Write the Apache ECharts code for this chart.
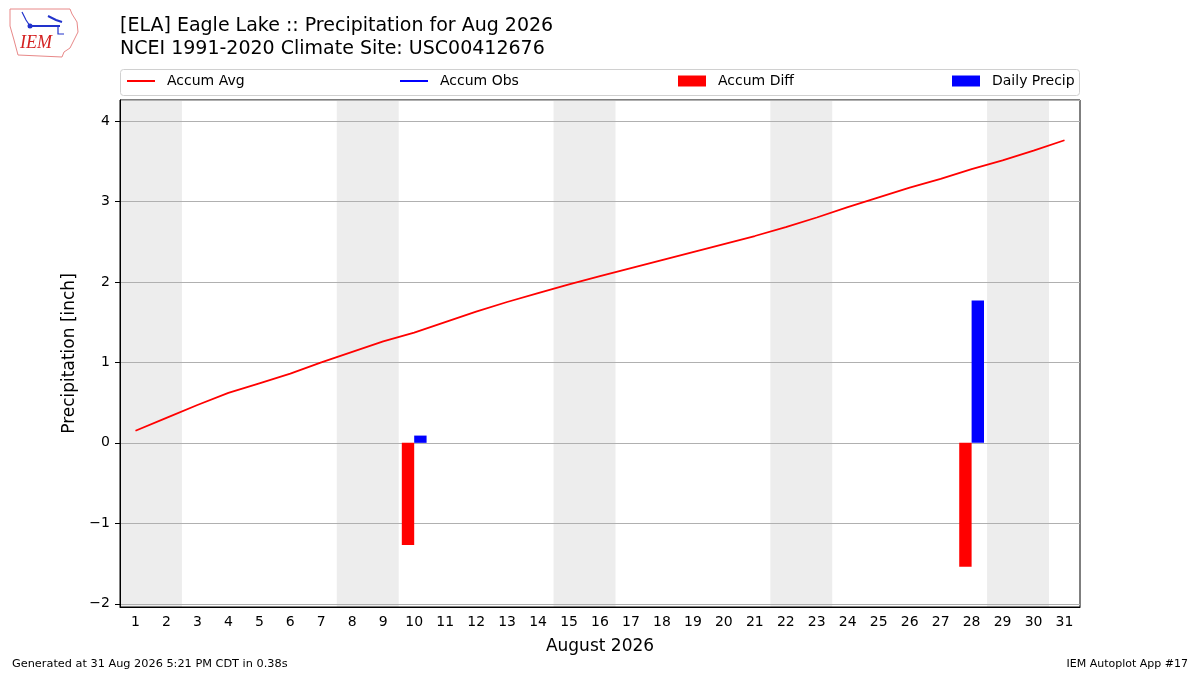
<!DOCTYPE html>
<html lang="en">
<head>
<meta charset="UTF-8" />
<title>Eagle Lake Precipitation Aug 2026</title>
<style>
  html, body { margin: 0; padding: 0; background: #fff; }
  #main { width: 1200px; height: 675px; }
</style>
</head>
<body>
<div id="main"></div>
<script src="https://cdn.jsdelivr.net/npm/echarts@6/dist/echarts.min.js"></script>
<script>
// data
var days = [];
for (var d = 1; d <= 31; d++) days.push(String(d));
var accumAvg = [0.15, 0.31, 0.47, 0.62, 0.74, 0.86, 1.00, 1.13, 1.26, 1.37,
  1.50, 1.63, 1.75, 1.86, 1.97, 2.07, 2.17, 2.27, 2.37, 2.47,
  2.57, 2.68, 2.80, 2.93, 3.05, 3.17, 3.28, 3.40, 3.51, 3.63, 3.76];
var accumObs = []; // no line drawn in the reference
var accumDiff = [null, null, null, null, null, null, null, null, null, -1.27,
  null, null, null, null, null, null, null, null, null, null,
  null, null, null, null, null, null, null, -1.54, null, null, null];
var dailyPrecip = [null, null, null, null, null, null, null, null, null, 0.09,
  null, null, null, null, null, null, null, null, null, null,
  null, null, null, null, null, null, null, 1.77, null, null, null];
var weekends = [[1, 2], [8, 9], [15, 16], [22, 23], [29, 30]];

var font = "DejaVu Sans";
var chart = echarts.init(document.getElementById("main"));

function legendItem(name, left, isLine) {
  return {
    left: left, top: 74,
    padding: 0,
    data: [name],
    icon: "rect",
    itemWidth: 28,
    itemHeight: isLine ? 2 : 11,
    selectedMode: false,
    textStyle: { fontFamily: font, fontSize: 14, color: "#000", padding: [0, 0, 0, 7] }
  };
}

var option = {
  animation: false,
  backgroundColor: "#fff",
  title: {
    text: "[ELA] Eagle Lake :: Precipitation for Aug 2026\nNCEI 1991-2020 Climate Site: USC00412676",
    left: 115, top: 10,
    textStyle: { fontFamily: font, fontSize: 19, fontWeight: "normal", color: "#000", lineHeight: 23 }
  },
  legend: [
    legendItem("Accum Avg", 127, true),
    legendItem("Accum Obs", 400, true),
    legendItem("Accum Diff", 678, false),
    legendItem("Daily Precip", 952, false)
  ],
  grid: {
    left: 120, right: 120, top: 100, bottom: 68,
    show: true, borderColor: "#000", borderWidth: 1, backgroundColor: "transparent"
  },
  xAxis: [{
    type: "category",
    data: days,
    boundaryGap: true,
    name: "August 2026",
    nameLocation: "middle",
    nameGap: 31,
    nameTextStyle: { fontFamily: font, fontSize: 17, color: "#000" },
    axisLine: { onZero: false, lineStyle: { color: "#000" } },
    axisTick: { alignWithLabel: true, length: 5, lineStyle: { color: "#000" } },
    axisLabel: { fontFamily: font, fontSize: 14, color: "#000", margin: 8, interval: 0 },
    splitLine: { show: false }
  }, {
    type: "value",
    min: 0.5, max: 31.5,
    show: false
  }],
  yAxis: {
    type: "value",
    min: -2.04, max: 4.26,
    minInterval: 1, maxInterval: 1,
    name: "Precipitation [inch]",
    nameLocation: "middle",
    nameGap: 36,
    nameTextStyle: { fontFamily: font, fontSize: 17, color: "#000" },
    axisLine: { show: true, onZero: false, lineStyle: { color: "#000" } },
    axisTick: { show: true, length: 5, lineStyle: { color: "#000" } },
    axisLabel: {
      fontFamily: font, fontSize: 14, color: "#000", margin: 10,
      showMinLabel: false, showMaxLabel: false,
      formatter: function (v) {
        if (Math.abs(v - Math.round(v)) > 1e-6) return "";
        return String(Math.round(v)).replace("-", "\u2212");
      }
    },
    splitLine: { show: true, lineStyle: { color: "#b0b0b0", width: 1 } }
  },
  series: [{
    name: "weekend",
    type: "line",
    xAxisIndex: 1,
    data: [],
    silent: true,
    z: -10,
    markArea: {
      silent: true,
      z: -10,
      itemStyle: { color: "#ededed" },
      data: weekends.map(function (w) {
        return [{ xAxis: w[0] - 0.5 }, { xAxis: w[1] + 0.5 }];
      })
    }
  }, {
    name: "Accum Diff",
    type: "bar",
    data: accumDiff,
    barWidth: "40%",
    barGap: "0%",
    itemStyle: { color: "#ff0000" },
    z: 3
  }, {
    name: "Daily Precip",
    type: "bar",
    data: dailyPrecip,
    barWidth: "40%",
    barGap: "0%",
    itemStyle: { color: "#0000ff" },
    z: 3
  }, {
    name: "Accum Avg",
    type: "line",
    data: accumAvg,
    showSymbol: false,
    lineStyle: { color: "#ff0000", width: 1.8 },
    itemStyle: { color: "#ff0000" },
    z: 4
  }, {
    name: "Accum Obs",
    type: "line",
    data: accumObs,
    showSymbol: false,
    lineStyle: { color: "#0000ff", width: 1.8 },
    itemStyle: { color: "#0000ff" },
    z: 4
  }],
  graphic: [
    // legend frame
    { type: "rect", shape: { x: 120.5, y: 69.5, width: 959, height: 26, r: 3 },
      style: { fill: "none", stroke: "#d0d0d0", lineWidth: 1 }, z: -1 },
    // rough IEM logo
    { type: "polyline",
      shape: { points: [[10, 9], [70, 9], [72, 14], [77, 22], [78, 32], [74, 40], [70, 48], [64, 52], [62, 57], [18, 55], [14, 40], [10, 26], [10, 9]] },
      style: { fill: "none", stroke: "#e88888", lineWidth: 1 } },
    { type: "polyline", shape: { points: [[30, 26], [60, 26]] }, style: { stroke: "#2233cc", lineWidth: 2 } },
    { type: "polyline", shape: { points: [[22, 12], [26, 20], [30, 26]] }, style: { stroke: "#2233cc", lineWidth: 1.2 } },
    { type: "polyline", shape: { points: [[48, 16], [56, 20], [62, 22]] }, style: { stroke: "#2233cc", lineWidth: 2 } },
    { type: "polyline", shape: { points: [[58, 26], [58, 34], [64, 34]] }, style: { stroke: "#2233cc", lineWidth: 1.2 } },
    { type: "circle", shape: { cx: 30, cy: 26, r: 2.5 }, style: { fill: "#2233cc" } },
    { type: "text", left: 20, top: 34,
      style: { text: "IEM", font: "italic 18px 'Liberation Serif'", fill: "#d42020" } },
    // footer
    { type: "text", left: 12, top: 659,
      style: { text: "Generated at 31 Aug 2026 5:21 PM CDT in 0.38s", font: "11.3px 'DejaVu Sans'", fill: "#000" } },
    { type: "text", right: 12, top: 659,
      style: { text: "IEM Autoplot App #17", font: "11px 'DejaVu Sans'", fill: "#000" } }
  ]
};

chart.setOption(option);
</script>
</body>
</html>
